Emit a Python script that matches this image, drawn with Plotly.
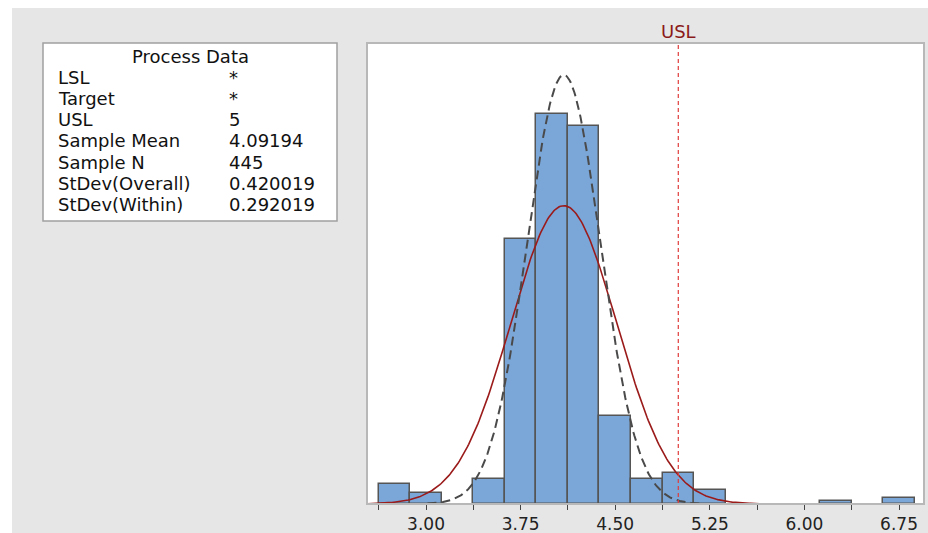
import numpy as np
import plotly.graph_objects as go

# ---- data ----
bin_centers = [2.75, 3.00, 3.50, 3.75, 4.00, 4.25, 4.50, 4.75, 5.00, 5.25, 6.25, 6.75]
bin_counts = [7, 4, 9, 94, 138, 134, 31, 9, 11, 5, 1, 2]
bin_width = 0.25

lsl = "*"
target = "*"
usl = 5
sample_mean = 4.09194
sample_n = 445
sd_overall = 0.420019
sd_within = 0.292019

tick_vals = [2.625, 3.0, 3.375, 3.75, 4.125, 4.5, 4.875, 5.25, 5.625, 6.0, 6.375, 6.75]
tick_text = ["", "3.00", "", "3.75", "", "4.50", "", "5.25", "", "6.00", "", "6.75"]

process_labels = ["LSL", "Target", "USL", "Sample Mean", "Sample N", "StDev(Overall)", "StDev(Within)"]
process_values = [lsl, target, str(usl), "4.09194", str(sample_n), "0.420019", "0.292019"]


def normal_curve(mu, sd, n, width, k=3.7, npts=300):
    xs = np.linspace(mu - k * sd, mu + k * sd, npts)
    ys = n * width * np.exp(-0.5 * ((xs - mu) / sd) ** 2) / (sd * np.sqrt(2 * np.pi))
    return xs, ys


W, H = 928, 533
ML, MR, MT, MB = 367, 4, 43, 29
plot_w = W - ML - MR
plot_h = H - MT - MB


def px_x(px):
    return (px - ML) / plot_w


def px_y(py):
    return (H - MB - py) / plot_h


fig = go.Figure()

fig.add_trace(go.Bar(
    x=bin_centers, y=bin_counts, width=bin_width,
    marker=dict(color="#7BA6D8", line=dict(color="#555555", width=1.5)),
    showlegend=False, hoverinfo="x+y",
))

xo, yo = normal_curve(sample_mean, sd_overall, sample_n, bin_width)
fig.add_trace(go.Scatter(x=xo, y=yo, mode="lines",
                         line=dict(color="#9B1B1B", width=1.6), showlegend=False))

xw, yw = normal_curve(sample_mean, sd_within, sample_n, bin_width)
fig.add_trace(go.Scatter(x=xw, y=yw, mode="lines",
                         line=dict(color="#4A4A4A", width=2, dash="9px,5px"), showlegend=False))

font_family = "DejaVu Sans, sans-serif"
box_font = 18

shapes = [
    # gray panel
    dict(type="rect", xref="paper", yref="paper", x0=px_x(12), x1=px_x(W + 5),
         y0=px_y(H + 5), y1=px_y(8), fillcolor="#E6E6E6", line=dict(width=0), layer="below"),
    # white plot area
    dict(type="rect", xref="paper", yref="paper", x0=0, x1=1, y0=0, y1=1,
         fillcolor="white", line=dict(width=0), layer="below"),
    # USL line
    dict(type="line", xref="x", yref="paper", x0=usl, x1=usl, y0=0, y1=1,
         line=dict(color="#E03C3C", width=1.2, dash="4px,3px")),
    # plot border
    dict(type="rect", xref="paper", yref="paper", x0=0, x1=1, y0=0, y1=1,
         line=dict(color="#B8B8B8", width=2), fillcolor="rgba(0,0,0,0)"),
    # Process Data box
    dict(type="rect", xref="paper", yref="paper",
         x0=px_x(43), x1=px_x(337), y0=px_y(221), y1=px_y(43),
         fillcolor="white", line=dict(color="#A0A0A0", width=1.5), layer="above"),
]

annotations = [
    dict(text="USL", x=usl, xref="x", y=px_y(31), yref="paper", showarrow=False,
         font=dict(color="#8B1A1A", size=18, family=font_family), xanchor="center", yanchor="middle"),
    dict(text="Process Data", x=px_x(190), xref="paper", y=px_y(56), yref="paper", showarrow=False,
         borderpad=0,
         font=dict(color="#111111", size=box_font, family=font_family), xanchor="center", yanchor="middle"),
]
row_y = [77, 98.3, 119.6, 140.9, 162.2, 183.5, 204.8]
for lab, val, yy in zip(process_labels, process_values, row_y):
    annotations.append(dict(text=lab, x=px_x(57), xref="paper", y=px_y(yy), yref="paper",
                            showarrow=False, xanchor="left", yanchor="middle", borderpad=0,
                            font=dict(color="#111111", size=box_font, family=font_family)))
    annotations.append(dict(text=val, x=px_x(228), xref="paper", y=px_y(yy), yref="paper",
                            showarrow=False, xanchor="left", yanchor="middle", borderpad=0,
                            font=dict(color="#111111", size=box_font, family=font_family)))

fig.update_layout(
    width=W, height=H,
    margin=dict(l=ML, r=MR, t=MT, b=MB),
    paper_bgcolor="white", plot_bgcolor="white",
    bargap=0,
    shapes=shapes, annotations=annotations,
    xaxis=dict(range=[2.532, 6.948], tickvals=tick_vals, ticktext=tick_text,
               ticks="outside", ticklen=5, tickcolor="#444444", tickwidth=1,
               showgrid=False, zeroline=False, showline=False, automargin=False,
               tickfont=dict(size=17, color="#222222", family=font_family)),
    yaxis=dict(range=[0, 163.3], showticklabels=False, showgrid=False, zeroline=False,
               showline=False, ticks="", automargin=False),
)

fig.write_html("out.html", config={"displayModeBar": False},
               post_script="document.body.style.margin='0';")
